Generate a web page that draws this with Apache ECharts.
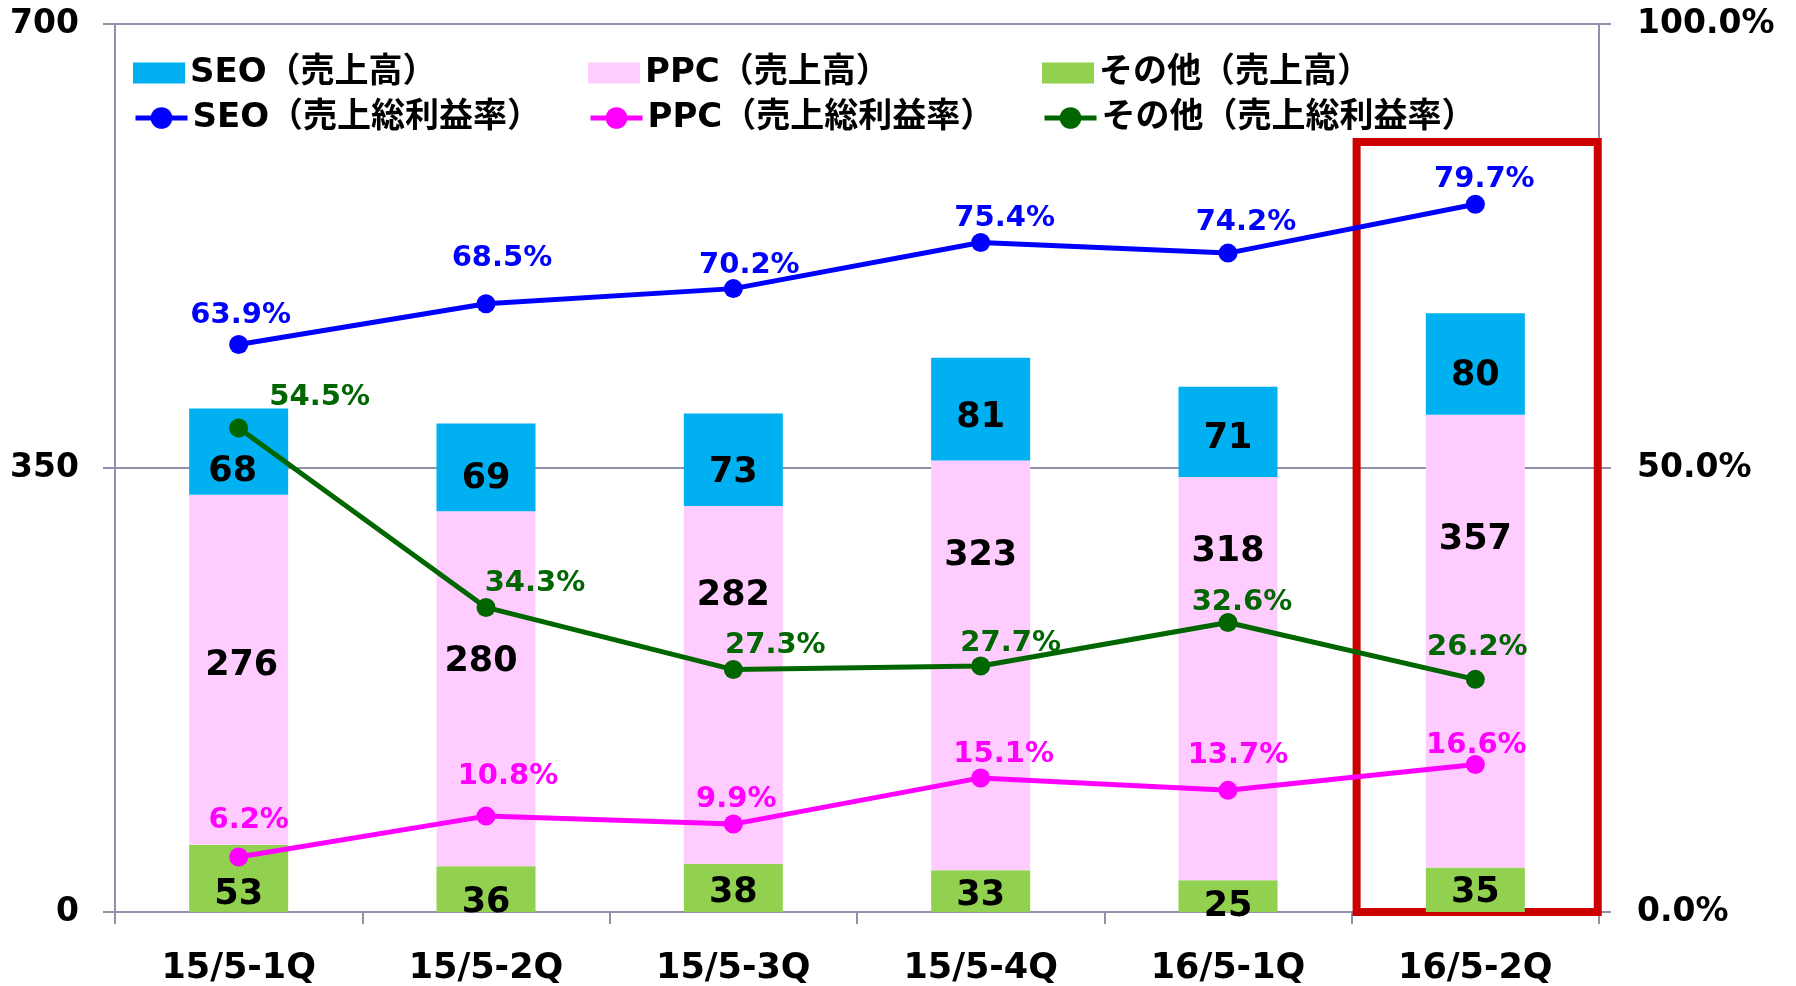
<!DOCTYPE html>
<html><head><meta charset="utf-8">
<script src="https://cdn.jsdelivr.net/npm/echarts@6/dist/echarts.min.js"></script>
<style>html,body{margin:0;padding:0;background:#fff}#c{width:1796px;height:986px}</style>
</head><body><div id="c"></div>
<script>
// ---- data ----
const categories = ['15/5-1Q','15/5-2Q','15/5-3Q','15/5-4Q','16/5-1Q','16/5-2Q'];
const seoSales   = [68, 69, 73, 81, 71, 80];
const ppcSales   = [276, 280, 282, 323, 318, 357];
const otherSales = [53, 36, 38, 33, 25, 35];
const seoMargin   = [63.9, 68.5, 70.2, 75.4, 74.2, 79.7];
const ppcMargin   = [6.2, 10.8, 9.9, 15.1, 13.7, 16.6];
const otherMargin = [54.5, 34.3, 27.3, 27.7, 32.6, 26.2];
const leftAxisMax = 700, leftAxisStep = 350;
const rightAxisMax = 100, rightAxisStep = 50;
const barNames  = ['SEO（売上高）', 'PPC（売上高）', 'その他（売上高）'];
const lineNames = ['SEO（売上総利益率）', 'PPC（売上総利益率）', 'その他（売上総利益率）'];
// highlighted period box (category band index range, sales-axis top)
const highlightFrom = 5.02, highlightTo = 5.995, highlightTop = 607;

// ---- label nudges (style only) ----
const seoLabelOff   = [[2,-29],[16,-45],[16,-23],[24,-24],[18,-31],[9,-25]];
const ppcLabelOff   = [[10,-36],[22,-40],[3,-25],[23,-23],[10,-35],[1,-19]];
const otherLabelOff = [[81,-31],[49,-24],[42,-24],[30,-23],[14,-20],[2,-32]];
const seoBarOff   = [[-6,20],[0,12],[0,13],[0,9],[0,7],[0,12]];
const ppcBarOff   = [[3,-4],[-5,-27],[0,-89],[0,-109],[0,-127],[0,-101]];
const otherBarOff = [[0,17],[0,14],[0,5],[0,5],[0,11],[0,3]];

const AX = '#9090A8';
const NUMFONT = '"DejaVu Sans", Verdana, sans-serif';
const JPFONT = '"DejaVu Sans", "Noto Sans CJK JP", sans-serif';

function withOffsets(vals, offs) {
  return vals.map((v, i) => ({ value: v, label: { offset: offs[i] } }));
}
function barSeries(name, vals, offs, color) {
  return {
    name, type: 'bar', stack: 'sales', barWidth: 99, z: 2,
    itemStyle: { color },
    label: { show: true, position: 'inside', color: '#000', fontSize: 35,
             fontWeight: 'bold', fontFamily: NUMFONT },
    data: withOffsets(vals, offs)
  };
}
function lineSeries(name, vals, offs, color) {
  return {
    name, type: 'line', yAxisIndex: 1, z: 5,
    symbol: 'circle', symbolSize: 19,
    lineStyle: { color, width: 5 }, itemStyle: { color },
    label: { show: true, position: 'inside', color, fontSize: 29,
             fontWeight: 'bold', fontFamily: NUMFONT,
             formatter: p => p.value.toFixed(1) + '%' },
    data: withOffsets(vals, offs)
  };
}

const legendLefts = [133, 588, 1042];
const legends = [];
[0, 1, 2].forEach(i => {
  legends.push({
    left: legendLefts[i], top: 56, padding: 0, selectedMode: false,
    itemWidth: 52, itemHeight: 21,
    data: [{ name: barNames[i], icon: 'rect' }],
    textStyle: { fontSize: 34, fontWeight: 'bold', color: '#000', fontFamily: JPFONT }
  });
  legends.push({
    left: legendLefts[i], top: 101, padding: 0, selectedMode: false,
    itemWidth: 52, itemHeight: 27,
    lineStyle: { width: 5 },
    data: [{ name: lineNames[i] }],
    textStyle: { fontSize: 34, fontWeight: 'bold', color: '#000', fontFamily: JPFONT }
  });
});

const chart = echarts.init(document.getElementById('c'), null, { renderer: 'canvas' });
chart.setOption({
  animation: false,
  backgroundColor: '#fff',
  grid: { left: 115, right: 197, top: 24, bottom: 74 },
  legend: legends,
  xAxis: [{
    type: 'category', data: categories,
    axisLine: { lineStyle: { color: AX, width: 2 } },
    axisTick: { show: true, length: 12, lineStyle: { color: AX, width: 2 } },
    axisLabel: { fontSize: 35, fontWeight: 'bold', color: '#000', fontFamily: NUMFONT, margin: 39 }
  }, {
    type: 'value', min: 0, max: categories.length, show: false
  }],
  yAxis: [{
    type: 'value', min: 0, max: leftAxisMax, interval: leftAxisStep,
    axisLine: { show: true, lineStyle: { color: AX, width: 2 } },
    axisTick: { show: true, length: 12, lineStyle: { color: AX, width: 2 } },
    splitLine: { lineStyle: { color: AX, width: 2 } },
    axisLabel: { fontSize: 33, fontWeight: 'bold', color: '#000', fontFamily: NUMFONT, margin: 36 }
  }, {
    type: 'value', min: 0, max: rightAxisMax, interval: rightAxisStep, position: 'right',
    axisLine: { show: true, lineStyle: { color: AX, width: 2 } },
    axisTick: { show: true, length: 12, lineStyle: { color: AX, width: 2 } },
    splitLine: { show: false },
    axisLabel: { fontSize: 33, fontWeight: 'bold', color: '#000', fontFamily: NUMFONT, margin: 38,
                 formatter: v => v.toFixed(1) + '%' }
  }],
  series: [
    barSeries(barNames[2], otherSales, otherBarOff, '#92D050'),
    barSeries(barNames[1], ppcSales, ppcBarOff, '#FFCCFF'),
    barSeries(barNames[0], seoSales, seoBarOff, '#00B0F0'),
    lineSeries(lineNames[0], seoMargin, seoLabelOff, '#0000FF'),
    lineSeries(lineNames[1], ppcMargin, ppcLabelOff, '#FF00FF'),
    lineSeries(lineNames[2], otherMargin, otherLabelOff, '#006600'),
    {
      name: 'highlight', type: 'line', xAxisIndex: 1, yAxisIndex: 0, data: [], clip: false, z: 6,
      markArea: {
        silent: true,
        itemStyle: { color: 'rgba(0,0,0,0)', borderColor: '#CC0000', borderWidth: 8 },
        data: [[{ coord: [highlightFrom, 0] }, { coord: [highlightTo, highlightTop] }]]
      }
    }
  ]
});
</script>
</body></html>
